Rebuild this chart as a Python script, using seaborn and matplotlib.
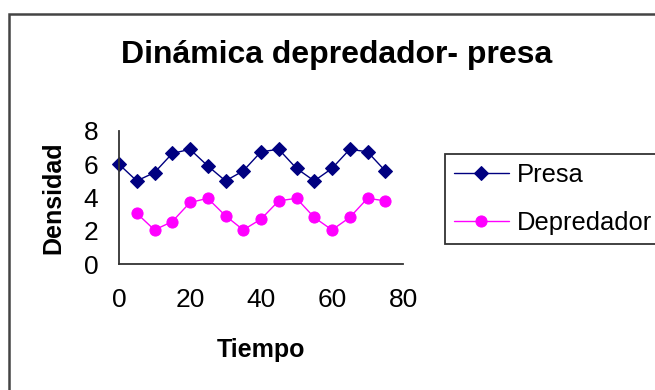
import numpy as np
import pandas as pd
import matplotlib
matplotlib.use("Agg")
import matplotlib.pyplot as plt
import matplotlib.patches as mpatches
import seaborn as sns

# ---- data ----
tiempo_presa = [0, 5, 10, 15, 20, 25, 30, 35, 40, 45, 50, 55, 60, 65, 70, 75]
presa = [6.0, 5.0, 5.5, 6.65, 6.9, 5.9, 5.0, 5.6, 6.75, 6.9, 5.75, 5.0, 5.75, 6.9, 6.75, 5.6]
tiempo_depredador = [5, 10, 15, 20, 25, 30, 35, 40, 45, 50, 55, 60, 65, 70, 75]
depredador = [3.05, 2.05, 2.55, 3.7, 3.95, 2.9, 2.05, 2.7, 3.8, 3.95, 2.8, 2.05, 2.8, 3.95, 3.8]
x_ticks = [0, 20, 40, 60, 80]
y_ticks = [0, 2, 4, 6, 8]
title = "Dinámica depredador- presa"
x_label = "Tiempo"
y_label = "Densidad"
series_names = ["Presa", "Depredador"]

sns.set_theme(style="white")
plt.rcParams['font.family'] = ['Liberation Sans', 'DejaVu Sans']
plt.rcParams['text.color'] = 'black'
plt.rcParams['axes.labelcolor'] = 'black'

W, H = 655, 390
fig = plt.figure(figsize=(W / 100, H / 100), dpi=100)
fig.patch.set_facecolor("white")

ax_left, ax_right = 119, 403
ax_top, ax_bottom = 131, 264
ax = fig.add_axes([ax_left / W, 1 - ax_bottom / H, (ax_right - ax_left) / W, (ax_bottom - ax_top) / H])
ax.set_facecolor("white")

df_p = pd.DataFrame({"t": tiempo_presa, "v": presa})
df_d = pd.DataFrame({"t": tiempo_depredador, "v": depredador})

sns.lineplot(data=df_p, x="t", y="v", ax=ax, color="#000080", marker="D", markersize=7.5,
             markeredgecolor="#000080", linewidth=1.0, label=series_names[0], clip_on=False)
sns.lineplot(data=df_d, x="t", y="v", ax=ax, color="#FF00FF", marker="o", markersize=8,
             markeredgecolor="#FF00FF", linewidth=1.0, label=series_names[1], clip_on=False)

ax.set_xlim(0, 80)
ax.set_ylim(0, 8)
ax.set_xticks(x_ticks)
ax.set_yticks(y_ticks)
ax.set_xticklabels([str(v) for v in x_ticks])
ax.set_yticklabels([str(v) for v in y_ticks])

for side in ["top", "right"]:
    ax.spines[side].set_visible(False)
for side in ["left", "bottom"]:
    ax.spines[side].set_color("#333333")
    ax.spines[side].set_linewidth(1.3)

ax.tick_params(axis="both", which="major", direction="out", length=6, width=1.3,
               color="#333333", labelsize=19, labelcolor="black")
ax.tick_params(axis="x", pad=11)
ax.tick_params(axis="y", pad=9)
ax.grid(False)

ax.set_xlabel(x_label, fontsize=18, fontweight="bold", labelpad=19, color="black")
ax.set_ylabel(y_label, fontsize=18, fontweight="bold", labelpad=13, color="black")

fig.text(337 / W, 1 - 63 / H, title, ha="center", va="baseline", fontsize=23,
         fontweight="bold", color="black")

leg = ax.legend(loc="upper left", bbox_to_anchor=(445 / W, 1 - 154 / H), bbox_transform=fig.transFigure,
                borderaxespad=0, fontsize=18.4, frameon=True, fancybox=False, shadow=False,
                handlelength=2.15, handletextpad=0.3, labelspacing=0.95, borderpad=0.35)
leg.get_frame().set_edgecolor("black")
leg.get_frame().set_linewidth(1.3)
for t in leg.get_texts():
    t.set_color("black")

# outer chart border (clipped by figure edges on right and bottom)
rect = mpatches.Rectangle((9 / W, -0.5), 2.0, (1 - 14 / H) + 0.5, transform=fig.transFigure,
                          fill=False, edgecolor="#444444", linewidth=1.8)
fig.patches.append(rect)

fig.savefig("out.png", dpi=100, facecolor="white")
